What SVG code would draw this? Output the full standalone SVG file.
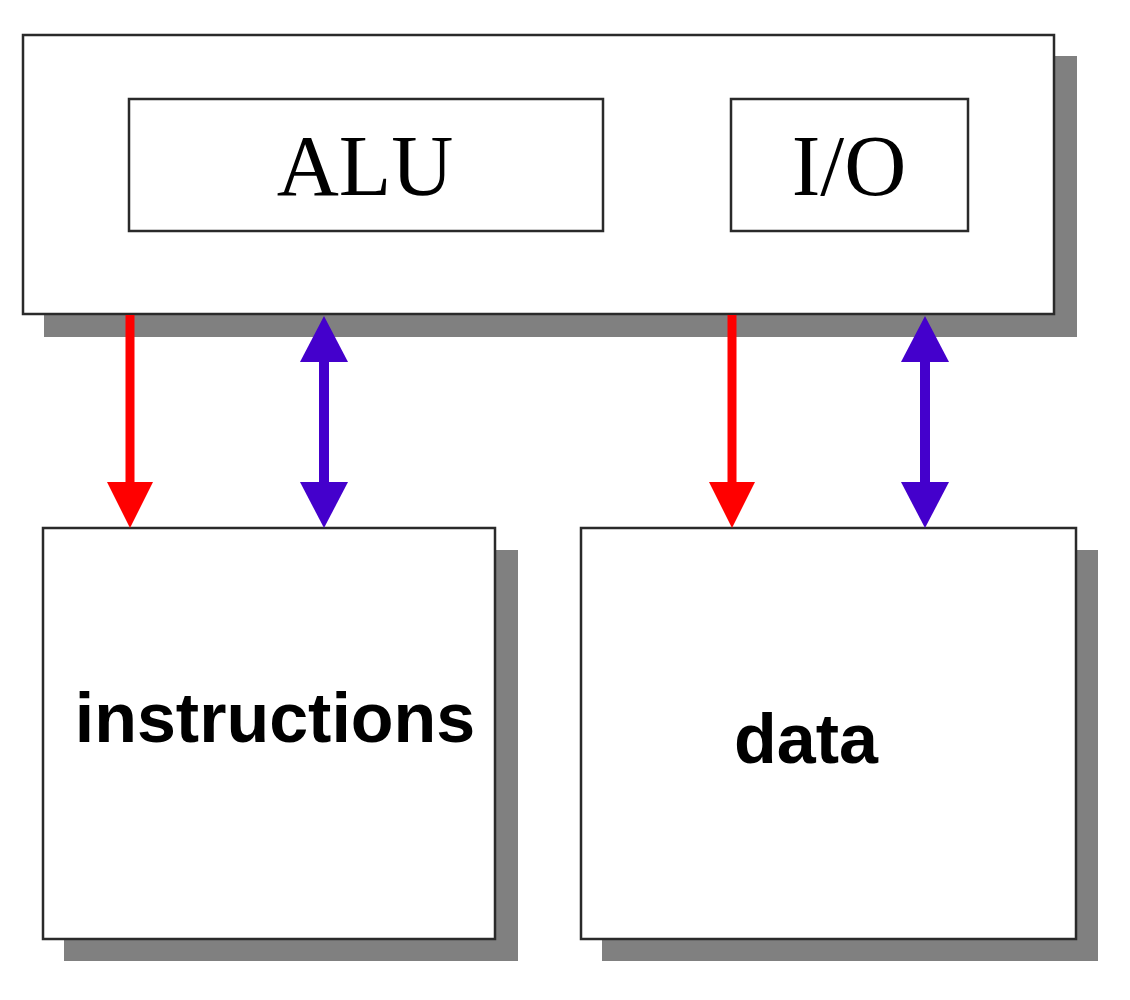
<svg xmlns="http://www.w3.org/2000/svg" width="1130" height="1000" viewBox="0 0 1130 1000">
<style>
.shadow{fill:#808080}
.box{fill:#ffffff;stroke:#2a2a2a;stroke-width:2.5}
.serif{font-family:"Liberation Serif","Times New Roman",serif;font-size:86px;fill:#000;text-anchor:middle}
.sans{font-family:"Liberation Sans",Arial,sans-serif;font-weight:bold;fill:#000;text-anchor:middle}
.red{stroke:#ff0000;stroke-width:9;fill:none}
.blue{stroke:#4400cc;stroke-width:10;fill:none}
</style>
<defs>
<marker id="hr" viewBox="0 0 46 46" refX="0" refY="23" markerWidth="46" markerHeight="46" markerUnits="userSpaceOnUse" orient="auto-start-reverse">
<path d="M0,0 L46,23 L0,46 z" fill="#ff0000"/>
</marker>
<marker id="hb" viewBox="0 0 46 48" refX="0" refY="24" markerWidth="46" markerHeight="48" markerUnits="userSpaceOnUse" orient="auto-start-reverse">
<path d="M0,0 L46,24 L0,48 z" fill="#4400cc"/>
</marker>
</defs>
<g id="cpu">
<rect class="shadow" x="44" y="56" width="1033" height="281"/>
<rect class="box" x="23" y="35" width="1031" height="279"/>
</g>
<g id="alu">
<rect class="box" x="129" y="99" width="474" height="132"/>
<text class="serif" x="365" y="195">ALU</text>
</g>
<g id="io">
<rect class="box" x="731" y="99" width="237" height="132"/>
<text class="serif" x="849" y="195">I/O</text>
</g>
<g id="instructions">
<rect class="shadow" x="64" y="550" width="454" height="411"/>
<rect class="box" x="43" y="528" width="452" height="411"/>
<text class="sans" x="275" y="742" font-size="70">instructions</text>
</g>
<g id="data">
<rect class="shadow" x="602" y="550" width="496" height="411"/>
<rect class="box" x="581" y="528" width="495" height="411"/>
<text class="sans" x="806" y="763" font-size="70">data</text>
</g>
<g id="connectors">
<line class="red" x1="130" y1="315" x2="130" y2="482" marker-end="url(#hr)"/>
<line class="blue" x1="324" y1="362" x2="324" y2="482" marker-start="url(#hb)" marker-end="url(#hb)"/>
<line class="red" x1="732" y1="315" x2="732" y2="482" marker-end="url(#hr)"/>
<line class="blue" x1="925" y1="362" x2="925" y2="482" marker-start="url(#hb)" marker-end="url(#hb)"/>
</g>
</svg>
